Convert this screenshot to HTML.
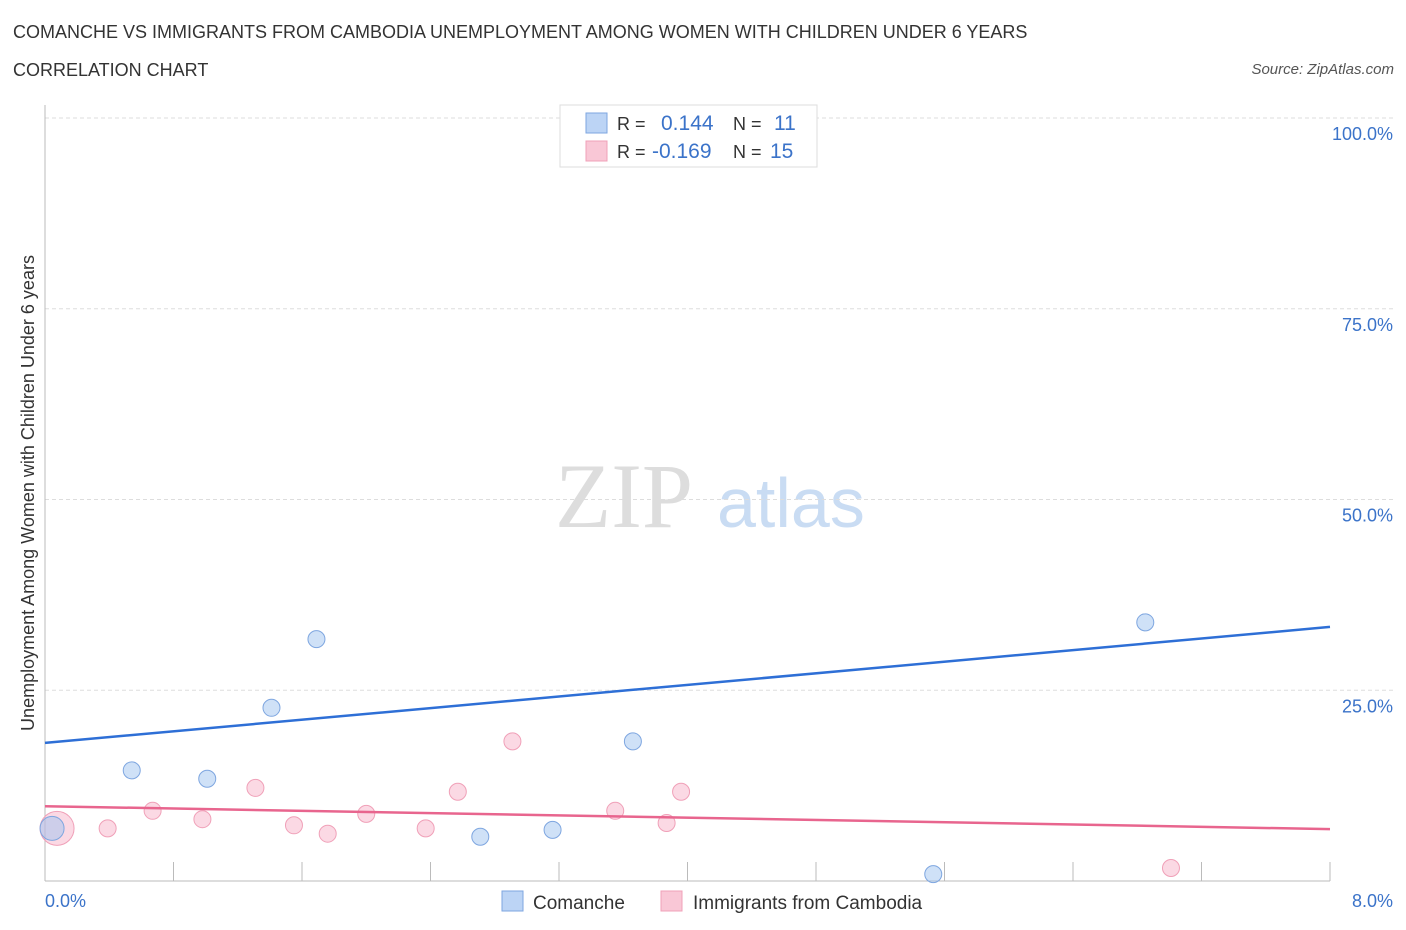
<!DOCTYPE html>
<html><head><meta charset="utf-8"><style>
body{margin:0;background:#fff;font-family:"Liberation Sans",sans-serif;}
#c{position:relative;width:1406px;height:930px;overflow:hidden}
.t{position:absolute;white-space:nowrap}
</style></head><body>
<div id="c">
<div class="t" style="left:13px;top:22px;font-size:18px;color:#333">COMANCHE VS IMMIGRANTS FROM CAMBODIA UNEMPLOYMENT AMONG WOMEN WITH CHILDREN UNDER 6 YEARS</div>
<div class="t" style="left:13px;top:60px;font-size:18px;color:#333">CORRELATION CHART</div>
<div class="t" style="right:12px;top:61px;font-size:15px;color:#555;font-style:italic">Source: ZipAtlas.com</div>
<svg id="s" width="1406" height="930" style="position:absolute;left:0;top:0"></svg>
</div>
<script>
const blueX=[0.044,0.54,1.01,1.41,1.69,2.71,3.16,3.66,5.53,6.85,3.27];
const blueY=[6.9,14.5,13.4,22.7,31.7,5.8,6.7,18.3,0.9,33.9,100.1];
const pinkX=[0.075,0.39,0.67,0.98,1.31,1.55,1.76,2.0,2.37,2.57,2.91,3.55,3.87,3.96,7.01];
const pinkY=[6.9,6.9,9.2,8.1,12.2,7.3,6.2,8.8,6.9,11.7,18.3,9.2,7.6,11.7,1.7];
const blueTrend=[18.1,33.3];
const pinkTrend=[9.8,6.8];
const yTicks=[25,50,75,100];
const yTickLabels=["25.0%","50.0%","75.0%","100.0%"];
const xTicks=[0,0.8,1.6,2.4,3.2,4,4.8,5.6,6.4,7.2,8];
const X0=45,X1=1330,Y0=881,Y100=118;
const xs=v=>X0+(v/8)*(X1-X0);
const ys=v=>Y0-(v/100)*(Y0-Y100);
const s=document.getElementById('s');const NS='http://www.w3.org/2000/svg';
function el(tag,attrs,name){const e=document.createElementNS(NS,tag);for(const k in attrs)e.setAttribute(k,attrs[k]);


s.appendChild(e);return e;}
// watermark
let w=el('text',{x:555,y:527,'font-size':92,'font-family':'Liberation Serif',fill:'#ddd'},'watermark-zip');w.textContent='ZIP';
w=el('text',{x:717,y:527,'font-size':70,'font-family':'Liberation Sans',fill:'#c9dcf3'},'watermark-atlas');w.textContent='atlas';
yTicks.forEach((v,i)=>{
el('line',{x1:X0,x2:1393,y1:ys(v),y2:ys(v),stroke:'#ddd','stroke-dasharray':'4,3'},'y-gridline');
const t=el('text',{x:1393,y:ys(v)+22,'text-anchor':'end','font-size':18,fill:'#3b73c9'},'y-tick-label');t.textContent=yTickLabels[i];});
el('line',{x1:X0,x2:X0,y1:105,y2:Y0,stroke:'#bbb'},'y-axis');
el('line',{x1:X0,x2:X1,y1:Y0,y2:Y0,stroke:'#bbb'},'x-axis');
xTicks.forEach(v=>el('line',{x1:xs(v),x2:xs(v),y1:862,y2:Y0,stroke:'#bbb'},'x-tick'));
let t=el('text',{x:45,y:907,'font-size':18,fill:'#3b73c9'},'x-min-label');t.textContent='0.0%';
t=el('text',{x:1393,y:907,'text-anchor':'end','font-size':18,fill:'#3b73c9'},'x-max-label');t.textContent='8.0%';
t=el('text',{x:0,y:0,'font-size':18,fill:'#333','text-anchor':'middle',transform:'translate(34,493) rotate(-90)'},'y-axis-title');t.textContent='Unemployment Among Women with Children Under 6 years';
pinkX.forEach((x,i)=>el('circle',{cx:xs(x),cy:ys(pinkY[i]),r:i==0?17:8.5,fill:'rgba(246,170,195,0.45)',stroke:'#f0a0b8','stroke-width':1},'pink-point'));
blueX.forEach((x,i)=>el('circle',{cx:xs(x),cy:ys(blueY[i]),r:i==0?12:8.5,fill:'rgba(160,195,240,0.5)',stroke:'#7ea6e0','stroke-width':1},'blue-point'));
el('line',{x1:xs(0),x2:xs(8),y1:ys(blueTrend[0]),y2:ys(blueTrend[1]),stroke:'#2e6fd6','stroke-width':2.5},'comanche-trendline');
el('line',{x1:xs(0),x2:xs(8),y1:ys(pinkTrend[0]),y2:ys(pinkTrend[1]),stroke:'#e8658e','stroke-width':2.5},'cambodia-trendline');
// legend box
el('rect',{x:560,y:105,width:257,height:62,fill:'#fff',stroke:'#ddd'},'legend-box');
el('rect',{x:586,y:113,width:21,height:20,fill:'#bcd4f5',stroke:'#7ea6e0'},'legend-blue-swatch');
el('rect',{x:586,y:141,width:21,height:20,fill:'#f9c7d6',stroke:'#f0a0b8'},'legend-pink-swatch');
[['R = ',617,130,'#333'],['0.144',661,130,'#3b73c9'],['N = ',733,130,'#333'],['11',774,130,'#3b73c9'],
 ['R = ',617,158,'#333'],['-0.169',652,158,'#3b73c9'],['N = ',733,158,'#333'],['15',770,158,'#3b73c9']].forEach(a=>{
 const e=el('text',{x:a[1],y:a[2],'font-size':a[3]=='#333'?18:21,fill:a[3]},'legend-stat');e.textContent=a[0];});
el('rect',{x:502,y:891,width:21,height:20,fill:'#bcd4f5',stroke:'#7ea6e0'},'bottom-legend-blue');
t=el('text',{x:533,y:909,'font-size':19,fill:'#333'},'bottom-legend-comanche');t.textContent='Comanche';
el('rect',{x:661,y:891,width:21,height:20,fill:'#f9c7d6',stroke:'#f0a0b8'},'bottom-legend-pink');
t=el('text',{x:693,y:909,'font-size':19,fill:'#333'},'bottom-legend-cambodia');t.textContent='Immigrants from Cambodia';
</script>
</body></html>
